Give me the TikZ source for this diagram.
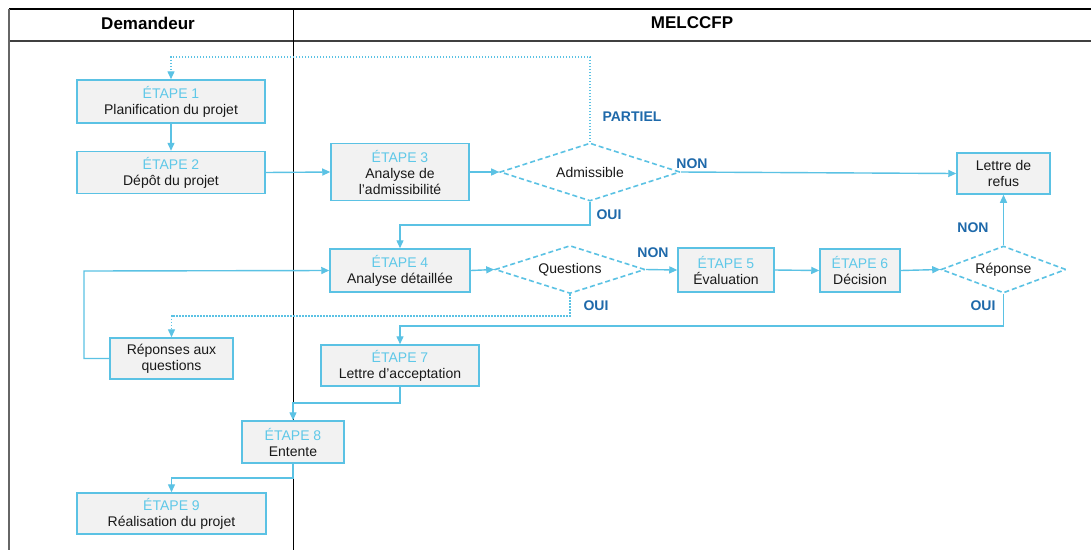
\documentclass[tikz,border=0pt]{standalone}
\usepackage{fontspec}
\setmainfont{Liberation Sans}
\usetikzlibrary{arrows.meta,shapes.geometric}
\definecolor{cyanline}{RGB}{91,194,228}
\definecolor{etapecol}{RGB}{95,200,232}
\definecolor{boxfill}{RGB}{242,242,242}
\definecolor{lblblue}{RGB}{30,105,170}
\definecolor{txt}{RGB}{25,25,25}
\newcommand\etapelbl[1]{{\color{etapecol}ÉTAPE #1}\\}
\begin{document}
\begin{tikzpicture}[x=1pt,y=-1pt,
  font=\fontsize{14}{16}\selectfont,
  stepbox/.style={draw=cyanline,line width=1.5pt,fill=boxfill,inner sep=0pt,align=center,text=txt},
  decision/.style={diamond,draw=cyanline,line width=1.6pt,dash pattern=on 5pt off 3pt,inner sep=0pt,text=txt},
  flow/.style={draw=cyanline,line width=1.4pt,-{Triangle[length=8pt,width=7pt]}},
  dotflow/.style={flow,dash pattern=on 1.5pt off 1.5pt},
  lbl/.style={text=lblblue,font=\fontsize{14}{16}\selectfont\bfseries},
  hdr/.style={font=\fontsize{17}{20}\selectfont\bfseries,text=black},
]
\useasboundingbox (0,0) rectangle (1091,550);
\fill[white] (0,0) rectangle (1091,550);
% table frame
\draw[black,line width=1.3pt] (9,9) -- (1091,9);
\draw[black!75,line width=1.6pt] (9,41) -- (1091,41);
\draw[black!60,line width=2pt] (9,9) -- (9,550);
\draw[black,line width=1pt] (293,9) -- (293,550);
\node[hdr] (hdem) at (148,23) {Demandeur};
\node[hdr] (hmel) at (692,23) {MELCCFP};
% boxes
\node[stepbox,minimum width=188pt,minimum height=43pt] (e1) at (171,101.5) {\etapelbl{1}Planification du projet};
\node[stepbox,minimum width=188pt,minimum height=42pt] (e2) at (171,172.5) {\etapelbl{2}Dépôt du projet};
\node[stepbox,minimum width=138pt,minimum height=57pt] (e3) at (400,172) {\etapelbl{3}Analyse de\\l’admissibilité};
\node[decision,minimum width=180pt,minimum height=58pt,aspect=3.1] (adm) at (590,172) {Admissible};
\node[stepbox,minimum width=93pt,minimum height=41pt] (refus) at (1003.5,173.5) {Lettre de\\refus};
\node[stepbox,minimum width=140pt,minimum height=43pt] (e4) at (400,270.5) {\etapelbl{4}Analyse détaillée};
\node[decision,minimum width=150pt,minimum height=48pt,aspect=3.1] (quest) at (570,269.5) {Questions};
\node[stepbox,minimum width=96pt,minimum height=44pt] (e5) at (726,270) {\etapelbl{5}Évaluation};
\node[stepbox,minimum width=80pt,minimum height=43pt] (e6) at (860,270.5) {\etapelbl{6}Décision};
\node[decision,minimum width=125pt,minimum height=47pt,aspect=2.66] (repd) at (1003.5,269.5) {Réponse};
\node[stepbox,minimum width=123pt,minimum height=41pt] (repq) at (171.5,358.5) {Réponses aux\\questions};
\node[stepbox,minimum width=158pt,minimum height=41pt] (e7) at (400,365.5) {\etapelbl{7}Lettre d’acceptation};
\node[stepbox,minimum width=102pt,minimum height=42pt] (e8) at (293,442) {\etapelbl{8}Entente};
\node[stepbox,minimum width=189pt,minimum height=41pt] (e9) at (171.5,513.5) {\etapelbl{9}Réalisation du projet};
% helper coordinates
\coordinate (ptop) at (400,57);
\coordinate (admOui) at (400,225);
\coordinate (qOui) at (171.5,316);
\coordinate (rOui) at (400,326);
\coordinate (rqL) at (84,271);
\coordinate (e7e8) at (293,403);
\coordinate (e8e9) at (171.5,478);
% connectors
\draw[flow] (e1.south) -- (e2.north);
\draw[flow] (e2.east) -- (e3.west);
\draw[flow] (e3.east) -- (adm.west);
\draw[dotflow] (adm.north) |- (ptop) -| (e1.north);
\draw[flow] (adm.east) -- (refus.west);
\draw[flow] (adm.south) |- (admOui) -- (e4.north);
\draw[flow] (e4.east) -- (quest.west);
\draw[flow] (quest.east) -- (e5.west);
\draw[dotflow] (quest.south) |- (qOui) -- (repq.north);
\draw[flow] (e5.east) -- (e6.west);
\draw[flow] (e6.east) -- (repd.west);
\draw[flow] (repd.north) -- (refus.south);
\draw[flow] (repd.south) |- (rOui) -- (e7.north);
\draw[flow] (repq.west) -| (rqL) -- (e4.west);
\draw[flow] (e7.south) |- (e7e8) -- (e8.north);
\draw[flow] (e8.south) |- (e8e9) -- (e9.north);
% labels
\node[lbl] (lpart) at (632,117) {PARTIEL};
\node[lbl] (lnon1) at (692,164) {NON};
\node[lbl] (loui1) at (609,215) {OUI};
\node[lbl] (lnon2) at (653,253) {NON};
\node[lbl] (loui2) at (596,306) {OUI};
\node[lbl] (lnon3) at (973,228) {NON};
\node[lbl] (loui3) at (983,306) {OUI};
\end{tikzpicture}
\end{document}
